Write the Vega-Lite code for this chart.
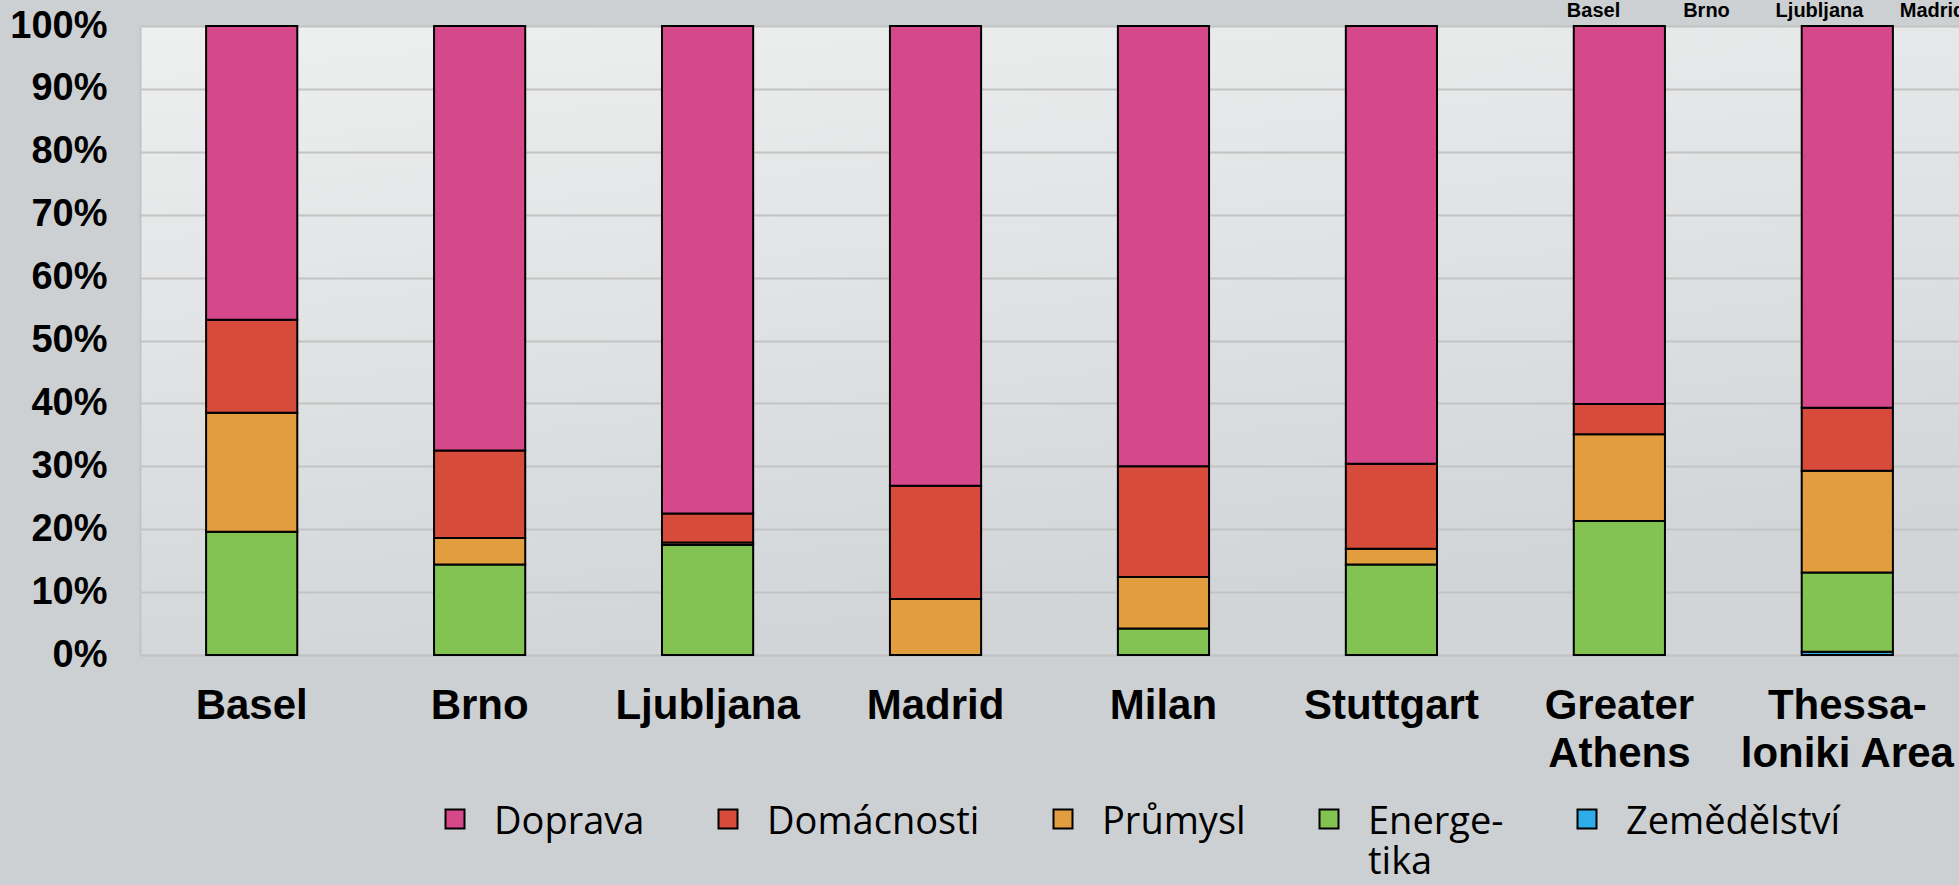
{
  "$schema": "https://vega.github.io/schema/vega-lite/v6.json",
  "width": 1819,
  "height": 629,
  "autosize": {"type": "none"},
  "padding": {"left": 140, "top": 26, "right": 0, "bottom": 230},
  "background": "#cdd0d3",
  "config": {
    "view": {
      "stroke": null,
      "fill": {"gradient": "linear", "x1": 0, "y1": 0, "x2": 0.3, "y2": 1,
        "stops": [{"offset": 0, "color": "#eeefef"}, {"offset": 1, "color": "#d2d5d8"}]}
    }
  },
  "resolve": {"scale": {"x": "independent"}, "axis": {"x": "independent"}},
  "layer": [
    {
      "data": {"values": [
        {"city": "Basel", "sector": "Energetika", "value": 19.6},
        {"city": "Basel", "sector": "Průmysl", "value": 18.9},
        {"city": "Basel", "sector": "Domácnosti", "value": 14.8},
        {"city": "Basel", "sector": "Doprava", "value": 46.7},
        {"city": "Brno", "sector": "Energetika", "value": 14.4},
        {"city": "Brno", "sector": "Průmysl", "value": 4.2},
        {"city": "Brno", "sector": "Domácnosti", "value": 13.9},
        {"city": "Brno", "sector": "Doprava", "value": 67.5},
        {"city": "Ljubljana", "sector": "Energetika", "value": 17.5},
        {"city": "Ljubljana", "sector": "Průmysl", "value": 0.4},
        {"city": "Ljubljana", "sector": "Domácnosti", "value": 4.6},
        {"city": "Ljubljana", "sector": "Doprava", "value": 77.5},
        {"city": "Madrid", "sector": "Průmysl", "value": 8.9},
        {"city": "Madrid", "sector": "Domácnosti", "value": 18.0},
        {"city": "Madrid", "sector": "Doprava", "value": 73.1},
        {"city": "Milan", "sector": "Energetika", "value": 4.2},
        {"city": "Milan", "sector": "Průmysl", "value": 8.2},
        {"city": "Milan", "sector": "Domácnosti", "value": 17.6},
        {"city": "Milan", "sector": "Doprava", "value": 70.0},
        {"city": "Stuttgart", "sector": "Energetika", "value": 14.4},
        {"city": "Stuttgart", "sector": "Průmysl", "value": 2.5},
        {"city": "Stuttgart", "sector": "Domácnosti", "value": 13.5},
        {"city": "Stuttgart", "sector": "Doprava", "value": 69.6},
        {"city": "Greater Athens", "sector": "Energetika", "value": 21.3},
        {"city": "Greater Athens", "sector": "Průmysl", "value": 13.8},
        {"city": "Greater Athens", "sector": "Domácnosti", "value": 4.8},
        {"city": "Greater Athens", "sector": "Doprava", "value": 60.1},
        {"city": "Thessaloniki Area", "sector": "Zemědělství", "value": 0.5},
        {"city": "Thessaloniki Area", "sector": "Energetika", "value": 12.6},
        {"city": "Thessaloniki Area", "sector": "Průmysl", "value": 16.2},
        {"city": "Thessaloniki Area", "sector": "Domácnosti", "value": 10.0},
        {"city": "Thessaloniki Area", "sector": "Doprava", "value": 60.7}
      ]},
      "transform": [
        {"calculate": "indexof(['Zemědělství','Energetika','Průmysl','Domácnosti','Doprava'], datum.sector)", "as": "ord"}
      ],
      "mark": {"type": "bar", "stroke": "black", "strokeWidth": 2},
      "encoding": {
        "x": {
          "field": "city", "type": "nominal",
          "sort": ["Basel", "Brno", "Ljubljana", "Madrid", "Milan", "Stuttgart", "Greater Athens", "Thessaloniki Area"],
          "scale": {"paddingInner": 0.6, "paddingOuter": 0.29},
          "axis": {
            "title": null, "orient": "bottom", "labelAngle": 0, "ticks": false,
            "domainColor": "#c3c3c3", "domainWidth": 2,
            "labelFont": "Liberation Sans", "labelFontWeight": "bold", "labelFontSize": 42,
            "labelColor": "black", "labelPadding": 30, "labelBaseline": "top", "labelLineHeight": 48,
            "labelLimit": 400,
            "labelExpr": "datum.label == 'Greater Athens' ? ['Greater', 'Athens'] : datum.label == 'Thessaloniki Area' ? ['Thessa-', 'loniki Area'] : datum.label"
          }
        },
        "y": {
          "field": "value", "type": "quantitative", "stack": "normalize",
          "scale": {"domain": [0, 1]},
          "axis": {
            "title": null, "format": ".0%", "values": [0, 0.1, 0.2, 0.3, 0.4, 0.5, 0.6, 0.7, 0.8, 0.9, 1],
            "ticks": false, "domainColor": "#c3c3c3", "domainWidth": 2,
            "grid": true, "gridColor": "#c3c3c3", "gridWidth": 2,
            "labelFont": "Liberation Sans", "labelFontWeight": "bold", "labelFontSize": 38,
            "labelColor": "black", "labelPadding": 33
          }
        },
        "color": {
          "field": "sector", "type": "nominal",
          "scale": {
            "domain": ["Doprava", "Domácnosti", "Průmysl", "Energetika", "Zemědělství"],
            "range": ["#d5488a", "#d74b3b", "#e29d3f", "#82c351", "#2fade9"]
          },
          "legend": {
            "title": null, "orient": "none", "direction": "horizontal",
            "legendX": 296, "legendY": 774,
            "symbolType": "square", "symbolSize": 361, "symbolStrokeColor": "black", "symbolStrokeWidth": 2,
            "symbolOpacity": 1,
            "labelFont": "Open Sans", "labelFontSize": 38, "labelColor": "black", "labelOffset": 20,
            "columnPadding": 64, "labelLimit": 400,
            "labelExpr": "datum.label == 'Energetika' ? ['Energe-', 'tika'] : [datum.label, ' ']",
            "encoding": {"labels": {"dy": {"value": 4}}}
          }
        },
        "order": {"field": "ord", "type": "quantitative", "sort": "ascending"}
      }
    },
    {
      "data": {"values": [{"t": "Basel"}, {"t": "Brno"}, {"t": "Ljubljana"}, {"t": "Madrid"}]},
      "mark": {"type": "point", "opacity": 0},
      "encoding": {
        "x": {
          "field": "t", "type": "nominal", "sort": null,
          "scale": {"type": "point", "domain": ["Basel", "Brno", "Ljubljana", "Madrid"], "range": [1453, 1792], "padding": 0},
          "axis": {
            "title": null, "orient": "top", "domain": false, "ticks": false, "grid": false,
            "labelFont": "Liberation Sans", "labelFontWeight": "bold", "labelFontSize": 20,
            "labelColor": "black", "labelPadding": 6, "labelAngle": 0
          }
        }
      }
    }
  ]
}
